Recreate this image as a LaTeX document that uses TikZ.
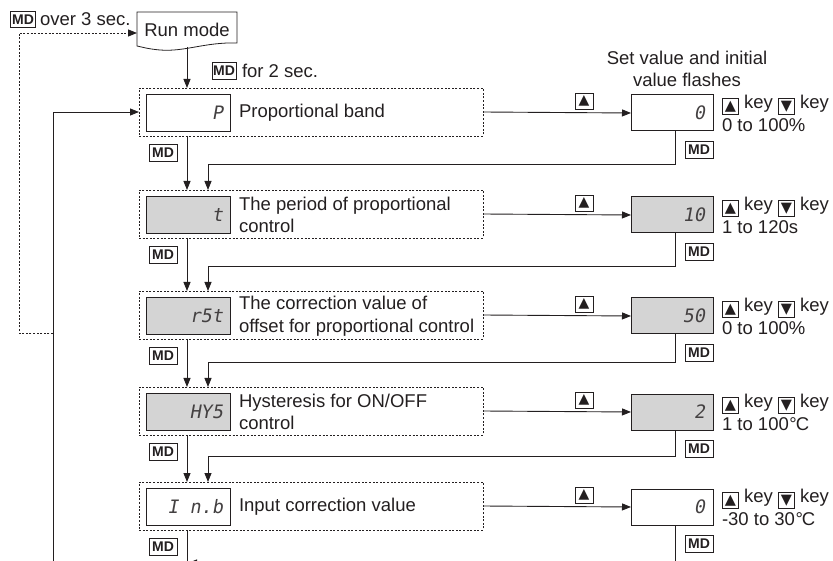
\documentclass[tikz,border=0pt]{standalone}
\usepackage{fontspec}
\setmainfont{Liberation Sans}
\newfontfamily\dejavu{DejaVu Sans}
\newfontfamily\lcdfont[FakeSlant=0.18]{DejaVu Sans Mono}
\usetikzlibrary{arrows.meta}
\definecolor{lcdgray}{RGB}{212,212,212}
\definecolor{ink}{RGB}{35,31,32}
\newcommand\kb[1]{{\setlength\fboxsep{2.2pt}\setlength\fboxrule{0.7pt}\raisebox{-2pt}{\fbox{\dejavu\fontsize{14.5}{14.5}\selectfont#1}}}}
\begin{document}
\begin{tikzpicture}[x=1pt,y=-1pt,
  every node/.style={inner sep=0pt,outer sep=0pt,text=ink},
  txt/.style={font=\fontsize{18.5}{22.5}\selectfont,align=left,anchor=west},
  dotbox/.style={draw=ink,line width=0.8pt,dash pattern=on 2pt off 1.6pt,minimum width=344pt,minimum height=48pt},
  lcd/.style={draw=ink,line width=1pt,minimum width=84pt,minimum height=37pt},
  vbox/.style={draw=ink,line width=1pt,minimum width=82pt,minimum height=36pt},
  graylcd/.style={fill=lcdgray},
  lcdtxt/.style={font=\lcdfont\fontsize{18.5}{18.5}\selectfont,text=ink!85,anchor=east},
  mdbox/.style={draw=ink,line width=0.7pt,fill=white,minimum width=28pt,minimum height=17pt,font=\fontsize{14}{14}\selectfont\bfseries},
  upbox/.style={draw=ink,line width=0.7pt,minimum width=18pt,minimum height=16pt,font=\dejavu\fontsize{14}{14}\selectfont},
  arr/.style={draw=ink,line width=0.9pt,-{Triangle[length=9pt,width=7pt]}},
  conn/.style={draw=ink,line width=0.9pt},
  dotline/.style={draw=ink,line width=0.9pt,dash pattern=on 2pt off 1.6pt,-{Triangle[length=9pt,width=7pt]}}
]
\useasboundingbox (0,0) rectangle (833,561);

% x guides
\coordinate (mx) at (187,0);
\coordinate (rx) at (208,0);
\coordinate (vx) at (675,0);

% top part
\node[mdbox,minimum width=25pt,minimum height=16pt] (mdtop) at (23,19.5) {MD};
\node[txt] (overtxt) at (40,19) {over 3 sec.};
\draw[draw=ink,line width=0.8pt,fill=white] (137,12) -- (237,12) -- (237,43)
  .. controls (205,42) and (185,52) .. (160,50) .. controls (148,49) and (142,47) .. (137,46) -- cycle;
\node[font=\fontsize{18.5}{18.5}\selectfont] (runmode) at (187,30) {Run mode};
\coordinate (rmw) at (137,33);
\coordinate (rmb) at (187,47);
\node[mdbox,minimum width=24pt] (mdrun) at (224,71) {MD};
\node[txt] (fortxt) at (242,71) {for 2 sec.};
\node[font=\fontsize{18.5}{22}\selectfont,align=center] (setval) at (687,69) {Set value and initial\\value flashes};

% rows
\foreach \i/\c/\d/\v/\g/\desc/\rng in {
  1/113/P/0//{Proportional band}/{0 to 100\%},
  2/215/t/10/graylcd/{The period of proportional\\control}/{1 to 120s},
  3/316/r5t/50/graylcd/{The correction value of\\offset for proportional control}/{0 to 100\%},
  4/412/HY5/2/graylcd/{Hysteresis for ON/OFF\\control}/{1 to 100\kern0.5pt°\kern-1pt C},
  5/507/{I n.b}/0//{Input correction value}/{-30 to 30\kern0.5pt°\kern-1pt C}} {
  \node[dotbox] (dot\i) at (311,\c-1) {};
  \node[lcd,\g] (lcd\i) at (188,\c) {};
  \node[lcdtxt] (lcdt\i) at ([xshift=-7pt]lcd\i.east) {\d};
  \node[txt] (desc\i) at (239,\c) {\desc};
  \node[vbox,\g] (vb\i) at (672,\c) {};
  \node[lcdtxt] (vbt\i) at ([xshift=-8pt]vb\i.east) {\v};
  \node[upbox] (up\i) at (584,\c-12) {▲};
  \node[mdbox] (mdl\i) at (163,\c+40) {MD};
  \node[mdbox] (mdr\i) at (699,\c+37) {MD};
  \node[txt,font=\fontsize{18.5}{23}\selectfont] (keys\i) at (722,\c) {\kb{▲} key \kb{▼} key\\\rng};
  \draw[arr] (dot\i.east) -- (vb\i.west);
}

% run mode to first row
\draw[arr] (rmb) -- (dot1.north -| mx);

% vertical flow
\foreach \i/\j/\ry in {1/2/164,2/3/266,3/4/362,4/5/456} {
  \draw[arr] (dot\i.south -| mx) -- (dot\j.north -| mx);
  \draw[arr] (vb\i.south -| vx) -- (675,\ry) -- (208,\ry) -- (dot\j.north -| rx);
}
\coordinate (end5) at (187,561);
\coordinate (vend5) at (675,561);
\draw[conn] (dot5.south -| mx) -- (end5);
\draw[conn] (vb5.south -| vx) -- (vend5);
\coordinate (pa1) at (215,563);
\coordinate (pa2) at (188,563);
\draw[arr] (pa1) -- (pa2);

% left return loop
\coordinate (lb) at (53,561);
\draw[arr] (lb) |- (dot1.west);
\coordinate (lj) at (53,333);
\draw[dotline] (lj) -- (19,333) -- (19,33) -- (rmw);
\end{tikzpicture}
\end{document}
